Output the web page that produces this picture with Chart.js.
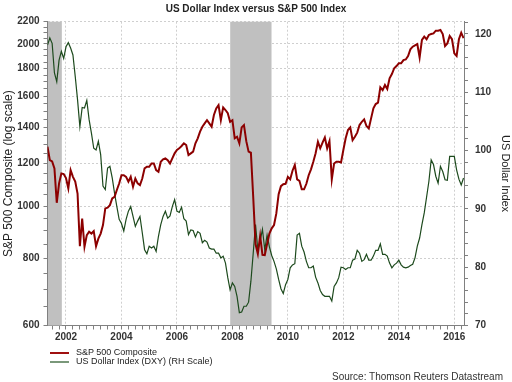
<!DOCTYPE html>
<html>
<head>
<meta charset="utf-8">
<script src="https://cdn.jsdelivr.net/npm/chart.js@4.4.1/dist/chart.umd.min.js"></script>
<style>
  body { margin: 0; background: #fff; font-family: "Liberation Sans", Arial, sans-serif; }
  #wrap { position: relative; width: 512px; height: 382px; }
  .swatch { position: absolute; left: 50px; width: 19px; height: 2px; }
  .legtext { position: absolute; left: 76px; font-size: 9px; line-height: 11px; color: #222; white-space: nowrap; }
  #source { position: absolute; right: 9px; top: 371px; font-size: 10px; line-height: 12px; color: #333; }
</style>
</head>
<body>
<div id="wrap">
  <canvas id="dollar-chart" width="512" height="382"></canvas>
  <div class="swatch" style="top:352px; background:#a01010;"></div>
  <div class="legtext" style="top:347px;">S&amp;P 500 Composite</div>
  <div class="swatch" style="top:361px; background:#7a987a;"></div>
  <div class="legtext" style="top:356px;">US Dollar Index (DXY) (RH Scale)</div>
  <div id="source">Source: Thomson Reuters Datastream</div>
</div>
<script>
// monthly values, May 2001 to May 2016
var startYear = 2001;
var startMonth = 5;

var spx = [1289, 1217, 1210, 1175, 1014, 1102, 1150, 1147, 1127, 1078, 1166, 1133, 1110, 1055, 842, 948,
    840, 883, 896, 889, 898, 842, 870, 889, 922, 990, 993, 1004, 1033, 1040, 1071, 1101, 1141, 1141,
    1133, 1110, 1133, 1086, 1125, 1102, 1094, 1125, 1175, 1183, 1183, 1200,
    1200, 1166, 1158, 1209, 1221, 1226, 1217, 1200, 1226, 1253, 1271, 1280, 1293, 1308, 1298, 1244,
    1253, 1262, 1308, 1336, 1375, 1404, 1424, 1444, 1424, 1404, 1476, 1518, 1540, 1444, 1525, 1508,
    1487, 1434, 1444, 1336, 1345, 1308, 1400, 1414, 1320, 1262, 1256,
    1040, 850, 815, 880, 812, 811, 850, 889,
    909, 922, 969, 1052, 1089, 1098, 1100, 1133, 1121, 1163, 1192, 1121, 1114, 1074, 1074, 1100,
    1141, 1170, 1209, 1253, 1316, 1280, 1311, 1341, 1280, 1320, 1121, 1200, 1209, 1209, 1205, 1271,
    1336, 1384, 1400, 1326, 1345, 1369, 1414, 1434,
    1449, 1408, 1394, 1455, 1519, 1547, 1556, 1661, 1642, 1678, 1650, 1727, 1759, 1803, 1820, 1841,
    1841, 1867, 1872, 1900, 1955, 1977, 1989, 2000, 1888, 2035, 2064, 2041, 2079, 2087, 2093, 2117,
    2117, 2123, 2087, 1983, 2005, 2070, 2041, 1921, 1900, 2041, 2099, 2050];

var dxy = [118.1, 119.3, 118.4, 113.3, 111.8, 115.5, 117.0, 115.8, 117.8, 118.5, 117.6, 116.4, 112.7,
    108.7, 104.1, 107.4, 107.3, 108.6, 105.3, 103.0, 100.4, 100.1, 101.6, 99.3, 93.9, 93.3, 97.0, 97.3,
    95.3, 92.7, 90.4, 88.2, 87.5, 86.2, 88.2, 89.6, 90.4, 88.7, 87.0, 87.9, 88.7, 85.9, 83.0, 82.3, 83.6, 83.3,
    83.6, 82.7, 85.3, 87.3, 88.7, 89.6, 88.4, 88.8, 90.4, 91.6, 89.6, 89.4, 90.3, 88.3, 87.9, 85.6,
    86.4, 86.3, 85.2, 86.1, 85.8, 84.2, 84.6, 84.3, 83.3, 83.1, 83.1, 82.4, 82.4, 81.6, 81.9, 80.7,
    78.2, 76.1, 77.3, 76.7, 75.0, 72.2, 72.3, 73.3, 73.3, 74.0, 77.6,
    82.4, 87.3, 83.0, 84.5, 86.5, 83.0, 85.5, 83.5,
    82.0, 81.0, 79.7, 77.9, 76.3, 75.5, 77.0, 77.9, 79.9, 80.4, 80.6, 85.5, 85.8, 83.6, 82.6, 81.0,
    79.9, 79.9, 80.2, 78.3, 77.3, 76.0, 75.3, 75.0, 75.0, 75.0, 74.2, 76.7, 77.3, 78.2, 80.0, 79.9,
    79.6, 79.9, 79.9, 81.2, 81.4, 82.9, 82.4, 81.0,
    81.3, 82.2, 81.2, 81.2, 81.9, 82.9, 82.9, 84.0, 82.2, 82.2, 81.9, 80.7, 79.9, 80.4, 80.7, 81.2,
    80.4, 80.0, 79.9, 80.0, 80.3, 80.5, 81.6, 83.6, 85.0, 87.3, 89.3, 92.0, 94.7, 98.4, 97.6, 95.6,
    94.4, 97.3, 96.4, 95.0, 94.9, 99.0, 99.0, 99.0, 96.7, 95.1, 94.1, 95.3];

// US recessions (shaded), as decimal years
var recessions = [[2001.2, 2001.85], [2007.92, 2009.41]];

// tick labels
var yearLabels = [2002, 2004, 2006, 2008, 2010, 2012, 2014, 2016];
var spxLabels = [600, 800, 1000, 1200, 1400, 1600, 1800, 2000, 2200];
var dxyLabels = [70, 80, 90, 100, 110, 120];

var months = [];
for (var i = 0; i < spx.length; i++) {
    months.push(startYear + (startMonth - 1 + i) / 12);
}

// minor tick positions
var quarterTicks = [];
for (var q = 2001.5; q <= 2016.3; q += 0.25) quarterTicks.push(q);
var spxTicks = [];
for (var s = 600; s <= 2200; s += 50) spxTicks.push(s);
var dxyTicks = [];
for (var d = 70; d <= 122; d += 2) dxyTicks.push(d);

var fontFamily = '"Liberation Sans", Arial, sans-serif';
var axisColor = '#808080';
var gridColor = '#cfcfcf';
var labelFont = { family: fontFamily, size: 10, weight: 'bold' };

var recessionShade = {
    id: 'recessionShade',
    beforeDatasetsDraw: function (chart) {
        var xs = chart.scales.x, area = chart.chartArea, c = chart.ctx;
        c.save();
        c.fillStyle = '#c0c0c0';
        recessions.forEach(function (r) {
            var x0 = Math.max(xs.getPixelForValue(r[0]), area.left + 0.5);
            var x1 = Math.min(xs.getPixelForValue(r[1]), area.right);
            c.fillRect(x0, area.top, x1 - x0, area.bottom - area.top);
        });
        c.restore();
    }
};

function setTicks(list) {
    return function (scale) {
        scale.ticks = list.map(function (v) { return { value: v }; });
    };
}

var ctx = document.getElementById('dollar-chart');
var myChart = new Chart(ctx, {
    type: 'line',
    data: {
        datasets: [
            {
                label: 'S&P 500 Composite',
                data: months.map(function (m, i) { return { x: m, y: spx[i] }; }),
                yAxisID: 'ySpx',
                borderColor: '#8c0000',
                borderWidth: 2,
                pointRadius: 0,
                tension: 0,
                fill: false
            },
            {
                label: 'US Dollar Index (DXY) (RH Scale)',
                data: months.map(function (m, i) { return { x: m, y: dxy[i] }; }),
                yAxisID: 'yDxy',
                borderColor: '#1d4a1d',
                borderWidth: 1.2,
                pointRadius: 0,
                tension: 0,
                fill: false
            }
        ]
    },
    options: {
        responsive: false,
        animation: false,
        layout: { padding: { left: 0, right: 0, top: 0, bottom: 36.5 } },
        plugins: {
            legend: { display: false },
            tooltip: { enabled: false },
            title: {
                display: true,
                text: 'US Dollar Index versus S&P 500 Index',
                color: '#222',
                font: { family: fontFamily, size: 10, weight: 'bold' },
                padding: { top: 3, bottom: 6.7 }
            }
        },
        scales: {
            x: {
                type: 'linear',
                min: 2001.333,
                max: 2016.35,
                afterBuildTicks: setTicks(quarterTicks),
                afterFit: function (scale) { scale.height = 20; },
                ticks: {
                    autoSkip: false,
                    maxRotation: 0,
                    padding: 2,
                    color: '#333',
                    font: labelFont,
                    callback: function (v) { return yearLabels.indexOf(v) >= 0 ? String(v) : ''; }
                },
                grid: {
                    color: function (c) {
                        return c.tick && yearLabels.indexOf(c.tick.value) >= 0 ? gridColor : 'rgba(0,0,0,0)';
                    },
                    tickColor: axisColor,
                    tickLength: 4
                },
                border: { color: axisColor, width: 1, dash: [2, 2] }
            },
            ySpx: {
                type: 'logarithmic',
                position: 'left',
                min: 600,
                max: 2200,
                afterBuildTicks: setTicks(spxTicks),
                afterFit: function (scale) { scale.width = 47.5; },
                ticks: {
                    autoSkip: false,
                    padding: 4,
                    color: '#333',
                    font: labelFont,
                    callback: function (v) { return spxLabels.indexOf(v) >= 0 ? String(v) : ''; }
                },
                grid: {
                    color: function (c) {
                        return c.tick && spxLabels.indexOf(c.tick.value) >= 0 ? gridColor : 'rgba(0,0,0,0)';
                    },
                    tickColor: axisColor,
                    tickLength: 4
                },
                border: { color: axisColor, width: 1, dash: [2, 2] },
                title: {
                    display: true,
                    text: 'S&P 500 Composite (log scale)',
                    color: '#222',
                    font: { family: fontFamily, size: 12 },
                    padding: { top: 1, bottom: 0 }
                }
            },
            yDxy: {
                type: 'linear',
                position: 'right',
                min: 70,
                max: 122.1,
                afterBuildTicks: setTicks(dxyTicks),
                afterFit: function (scale) { scale.width = 48; },
                ticks: {
                    autoSkip: false,
                    padding: 7,
                    color: '#333',
                    font: labelFont,
                    callback: function (v) { return dxyLabels.indexOf(v) >= 0 ? String(v) : ''; }
                },
                grid: {
                    drawOnChartArea: false,
                    tickColor: axisColor,
                    tickLength: 4
                },
                border: { color: axisColor, width: 1 },
                title: {
                    display: true,
                    text: 'US Dollar Index',
                    color: '#222',
                    font: { family: fontFamily, size: 11 },
                    padding: { top: 0, bottom: 0 }
                }
            }
        }
    },
    plugins: [recessionShade]
});
</script>
</body>
</html>
